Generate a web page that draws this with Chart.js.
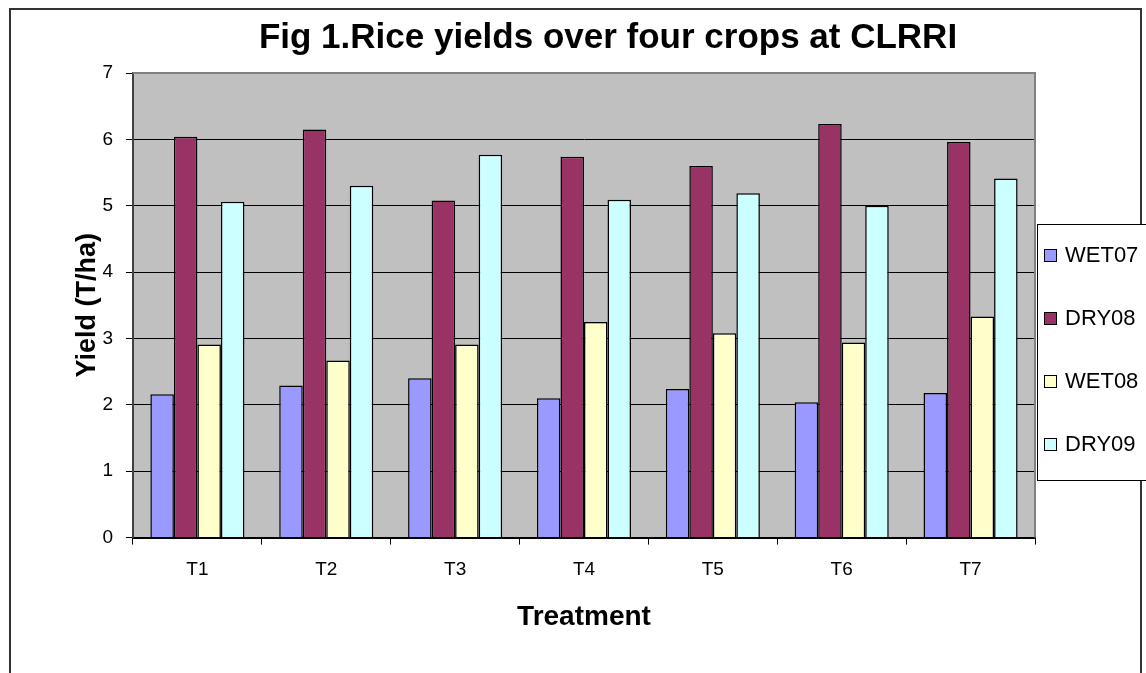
<!DOCTYPE html>
<html>
<head>
<meta charset="utf-8">
<title>Fig 1.Rice yields over four crops at CLRRI</title>
<script src="https://cdn.jsdelivr.net/npm/chart.js@4.4.1/dist/chart.umd.min.js"></script>
<style>
  html, body { margin: 0; padding: 0; background: #fff; overflow: hidden; }
  #frame { position: absolute; left: 9px; top: 8px; width: 1129px; height: 700px; border: 2px solid #333; border-bottom: none; }
  #wrap { position: absolute; left: 0; top: 0; width: 1146px; height: 673px; }
</style>
</head>
<body>
<div id="frame"></div>
<div id="wrap"><canvas id="yieldChart"></canvas></div>
<script>
// values (T/ha)
const treatments = ['T1', 'T2', 'T3', 'T4', 'T5', 'T6', 'T7'];
const wet07 = [2.16, 2.29, 2.40, 2.10, 2.24, 2.04, 2.18];
const dry08 = [6.04, 6.15, 5.08, 5.74, 5.60, 6.23, 5.96];
const wet08 = [2.91, 2.67, 2.91, 3.25, 3.08, 2.94, 3.33];
const dry09 = [5.06, 5.30, 5.77, 5.09, 5.19, 5.00, 5.41];
const yTicks = [0, 1, 2, 3, 4, 5, 6, 7];

const FONT = '"Liberation Sans", Arial, sans-serif';
Chart.defaults.font.family = FONT;
Chart.defaults.color = '#000';

const makeSeries = (label, data, color) => ({
  label: label,
  data: data,
  backgroundColor: color,
  borderColor: '#000',
  borderWidth: 1.5,
  categoryPercentage: 0.73,
  barPercentage: 1
});

// grey plot area, grey top/right edge like the Excel original
const plotBackground = {
  id: 'plotBackground',
  beforeDraw(chart) {
    const { ctx, chartArea: a } = chart;
    ctx.save();
    ctx.fillStyle = '#c0c0c0';
    ctx.fillRect(a.left, a.top, a.right - a.left, a.bottom - a.top);
    ctx.restore();
  },
  beforeDatasetsDraw(chart) {
    const { ctx, chartArea: a } = chart;
    ctx.save();
    ctx.strokeStyle = '#808080';
    ctx.lineWidth = 2;
    ctx.beginPath();
    ctx.moveTo(a.left, a.top);
    ctx.lineTo(a.right, a.top);
    ctx.lineTo(a.right, a.bottom);
    ctx.stroke();
    ctx.restore();
  },
  // the title sits a bit right of the canvas centre in the original
  afterLayout(chart) {
    const t = chart.titleBlock;
    const dx = 608 - (t.left + t.right) / 2;
    t.left += dx;
    t.right += dx;
  }
};

// boxed legend on the right, built from the datasets
const sideLegend = {
  id: 'sideLegend',
  afterDraw(chart) {
    const { ctx, chartArea: a } = chart;
    const left = a.right + 2;
    const top = 224;
    const bottom = 480;
    ctx.save();
    ctx.fillStyle = '#fff';
    ctx.fillRect(left, top, 200, bottom - top);
    ctx.strokeStyle = '#000';
    ctx.lineWidth = 1;
    ctx.strokeRect(left + 0.5, top + 0.5, 200, bottom - top);
    ctx.font = '22px ' + FONT;
    ctx.textBaseline = 'middle';
    chart.data.datasets.forEach((ds, i) => {
      const y = 255 + i * 63;
      ctx.fillStyle = ds.backgroundColor;
      ctx.fillRect(left + 7, y - 6, 12, 12);
      ctx.strokeRect(left + 7.5, y - 5.5, 12, 12);
      ctx.fillStyle = '#000';
      ctx.fillText(ds.label, left + 28, y + 1);
    });
    ctx.restore();
  }
};

new Chart(document.getElementById('yieldChart'), {
  type: 'bar',
  data: {
    labels: treatments,
    datasets: [
      makeSeries('WET07', wet07, '#9999ff'),
      makeSeries('DRY08', dry08, '#993366'),
      makeSeries('WET08', wet08, '#ffffcc'),
      makeSeries('DRY09', dry09, '#ccffff')
    ]
  },
  options: {
    animation: false,
    responsive: true,
    maintainAspectRatio: false,
    layout: { padding: { left: 14, right: 111, top: 0, bottom: 0 } },
    plugins: {
      legend: { display: false },
      tooltip: { enabled: false },
      title: {
        display: true,
        text: 'Fig 1.Rice yields over four crops at CLRRI',
        color: '#000',
        font: { size: 35, weight: 'bold' },
        padding: { top: 17, bottom: 14 }
      }
    },
    scales: {
      x: {
        grid: { offset: true, drawOnChartArea: false, tickLength: 7, color: '#000' },
        border: { color: '#000', width: 2 },
        ticks: { font: { size: 19 }, padding: 14 },
        title: {
          display: true,
          text: 'Treatment',
          font: { size: 28, weight: 'bold' },
          padding: { top: 5, bottom: 39 }
        }
      },
      y: {
        min: 0,
        max: 7,
        afterBuildTicks: scale => { scale.ticks = yTicks.map(v => ({ value: v })); },
        ticks: { font: { size: 19 }, padding: 13 },
        grid: {
          color: c => (c.tick && c.tick.value === 7 ? '#808080' : '#000'),
          tickColor: '#000',
          tickLength: 7,
          lineWidth: 1
        },
        border: { color: '#404040', width: 2 },
        title: {
          display: true,
          text: 'Yield (T/ha)',
          font: { size: 27, weight: 'bold' },
          padding: { top: 57, bottom: -14 }
        }
      }
    }
  },
  plugins: [plotBackground, sideLegend]
});
</script>
</body>
</html>
